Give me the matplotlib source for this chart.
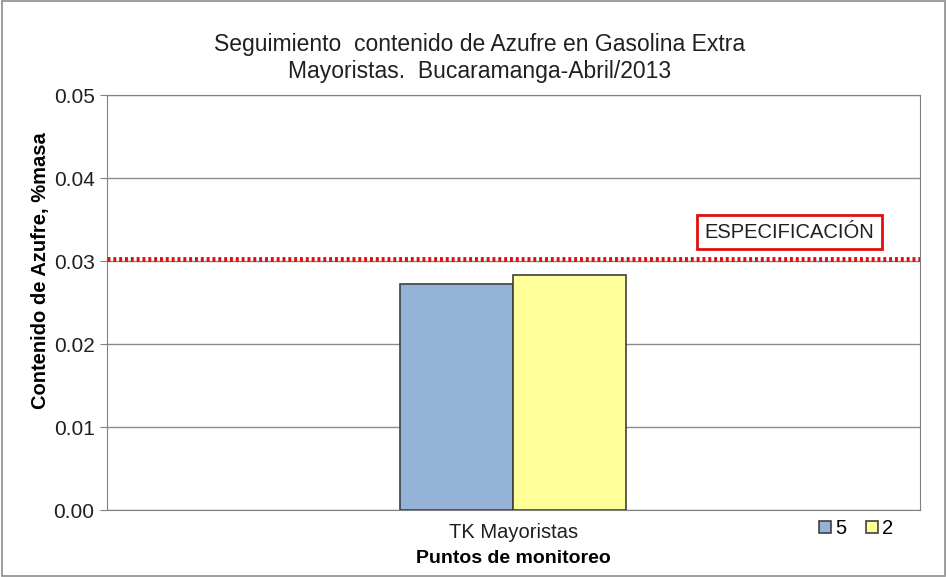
import matplotlib.pyplot as plt

plt.rcParams['font.family'] = ['Liberation Sans', 'DejaVu Sans']

categories = ["TK Mayoristas"]
series_names = ["5", "2"]
values_5 = [0.0272]
values_2 = [0.0283]
especificacion = 0.0303
yticks = [0.00, 0.01, 0.02, 0.03, 0.04, 0.05]

fig = plt.figure(figsize=(9.47, 5.77), dpi=100)
ax = fig.add_axes([0.113, 0.116, 0.858, 0.719])

# outer frame of the chart
fig.patches.append(plt.Rectangle((0.002, 0.002), 0.996, 0.996, transform=fig.transFigure,
                                 fill=False, edgecolor='#8c8c8c', linewidth=1.2))

w = 0.139
ax.bar([-w / 2], values_5, width=w, color='#95b3d7', edgecolor='#404040', linewidth=1.2,
       label=series_names[0], zorder=3)
ax.bar([w / 2], values_2, width=w, color='#ffff99', edgecolor='#404040', linewidth=1.2,
       label=series_names[1], zorder=3)

ax.axhline(especificacion, color='#e01010', linewidth=3.5, linestyle=(0, (0.6, 0.6)), zorder=4)
ax.text(0.34, 0.0335, "ESPECIFICACIÓN", ha='center', va='center', fontsize=14.5, color='#202020',
        bbox=dict(boxstyle='square,pad=0.38', facecolor='white', edgecolor='#e01010', linewidth=2))

ax.set_xlim(-0.5, 0.5)
ax.set_ylim(0, 0.05)
ax.set_yticks(yticks)
ax.set_yticklabels([f"{t:.2f}" for t in yticks], fontsize=15, color='#202020')
ax.set_xticks([0])
ax.set_xticklabels(categories, fontsize=14.5, color='#202020')
ax.tick_params(axis='x', length=0, pad=9)
ax.tick_params(axis='y', direction='out', length=5, color='#808080', pad=4)
ax.grid(axis='y', color='#8c8c8c', linewidth=1, zorder=0)
for s in ax.spines.values():
    s.set_color('#808080')

ax.set_xlabel("Puntos de monitoreo", fontsize=14, fontweight='bold', labelpad=6)
ax.set_ylabel("Contenido de Azufre, %masa", fontsize=14.5, fontweight='bold')
ax.yaxis.set_label_coords(-0.07, 0.578)
fig.text(0.506, 0.900, "Seguimiento  contenido de Azufre en Gasolina Extra\nMayoristas.  Bucaramanga-Abril/2013",
         ha='center', va='center', fontsize=16.5, color='#202020', linespacing=1.22)

ax.legend(loc='upper right', bbox_to_anchor=(0.99, 0.022), ncol=2, frameon=False, fontsize=14.5,
          handlelength=0.6, handleheight=0.6, handletextpad=0.2, columnspacing=1.0)

fig.savefig("out.png", dpi=100)
